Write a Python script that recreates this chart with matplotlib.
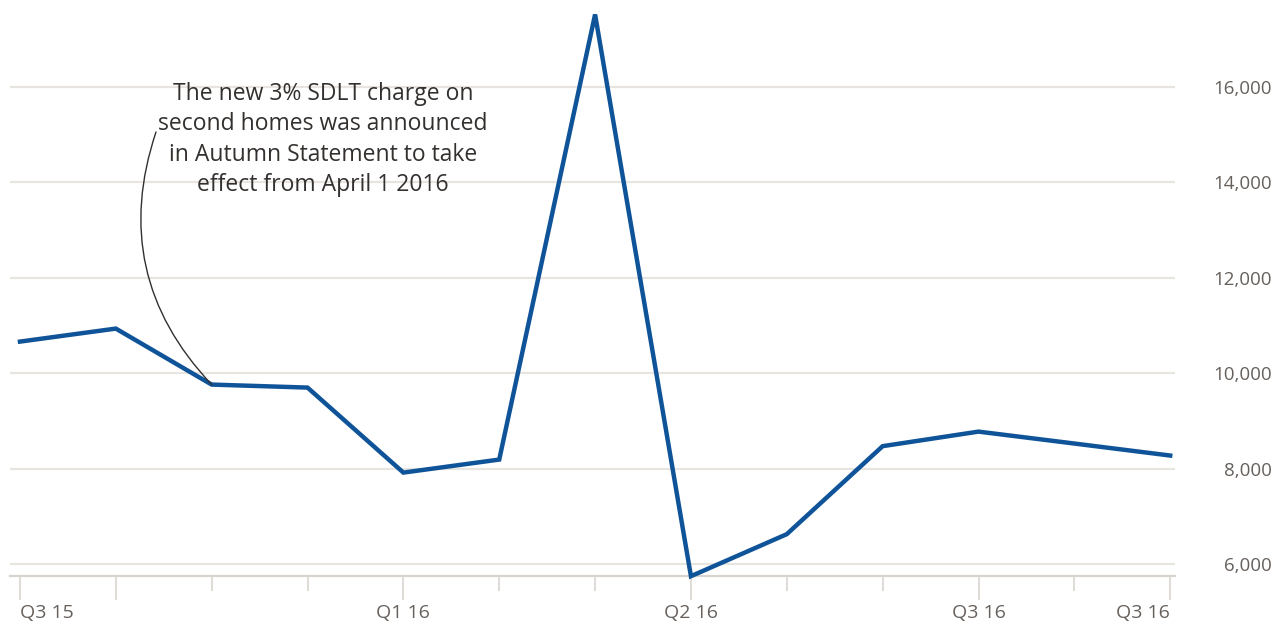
import matplotlib
matplotlib.use("Agg")
import matplotlib.pyplot as plt
from matplotlib.ticker import FuncFormatter

# Data
quarters = ["Q3 15", "", "", "", "Q1 16", "", "", "Q2 16", "", "", "Q3 16", "", "Q3 16"]
values = [10662, 10935, 9761, 9698, 7916, 8189, 17520, 5744, 6625, 8470, 8775, 8525, 8273]
yticks = [6000, 8000, 10000, 12000, 14000, 16000]
long_ticks = [0, 1, 4, 7, 10, 12]
annotation = "The new 3% SDLT charge on\nsecond homes was announced\nin Autumn Statement to take\neffect from April 1 2016"

FONT = ["Open Sans", "DejaVu Sans"]
W, H = 1284, 632
fig = plt.figure(figsize=(W / 100, H / 100), dpi=100)
fig.patch.set_facecolor("white")
ax = fig.add_axes([10 / W, (H - 576) / H, (1175 - 10) / W, (576 - 10) / H])
ax.set_facecolor("white")

x = list(range(len(values)))
ax.plot(x, values, color="#0f5499", lw=3.2, solid_joinstyle="miter", zorder=3, clip_on=False)

ax.set_xlim(-0.104, 12.05)
ax.set_ylim(5748, 17614)

# grid
ax.set_yticks(yticks)
ax.yaxis.grid(True, color="#e8e4e0", lw=1.6)
ax.set_axisbelow(True)
for s in ["top", "left", "right"]:
    ax.spines[s].set_visible(False)
ax.spines["bottom"].set_color("#d9d4cf")
ax.spines["bottom"].set_linewidth(1.6)

ax.yaxis.tick_right()
ax.tick_params(axis="y", length=0, pad=70, labelsize=13.5, labelcolor="#66605c")
ax.yaxis.set_major_formatter(FuncFormatter(lambda v, p: f"{int(v):,}"))
for lbl in ax.get_yticklabels():
    lbl.set_horizontalalignment("right")
    lbl.set_family(FONT)

# x ticks
ax.set_xticks(x)
ax.set_xticklabels(quarters)
ax.tick_params(axis="x", length=11, width=1.2, color="#d9d4cf", labelsize=14,
               labelcolor="#66605c", pad=9)
for i, t in enumerate(ax.xaxis.get_major_ticks()):
    if i in long_ticks:
        t.tick1line.set_markersize(17)
for i, lbl in enumerate(ax.get_xticklabels()):
    lbl.set_family(FONT)
    if i == 0:
        lbl.set_horizontalalignment("left")
    elif i == len(quarters) - 1:
        lbl.set_horizontalalignment("right")

# annotation
fig.text(323 / W, 1 - 82 / H, annotation, ha="center", va="top", fontsize=16.5,
         color="#33302e", family=FONT, linespacing=1.36)
ax.annotate("", xy=(2, values[2]), xycoords="data",
            xytext=(156 / W, 1 - 132 / H), textcoords="figure fraction",
            arrowprops=dict(arrowstyle="-", connectionstyle="arc3,rad=0.3",
                            color="#33302e", lw=1.0, shrinkA=0, shrinkB=0))

fig.savefig("out.png", dpi=100)
